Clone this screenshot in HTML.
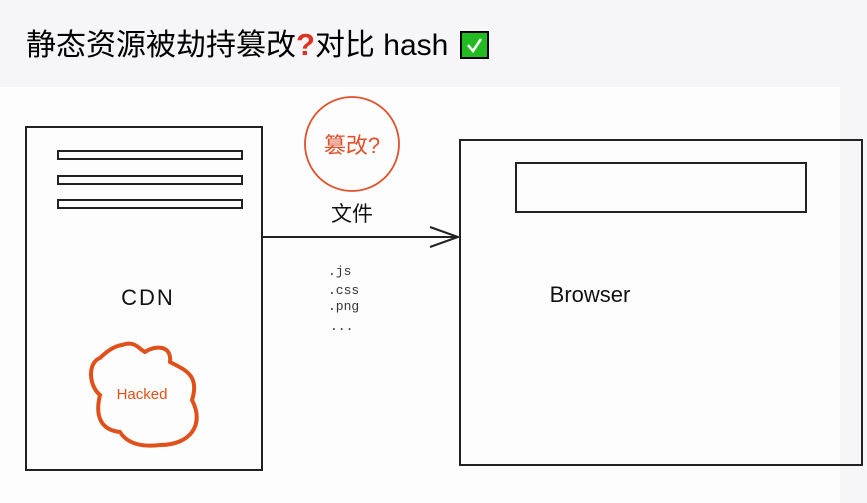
<!DOCTYPE html>
<html><head><meta charset="utf-8"><style>
body{margin:0;width:867px;height:503px;background:#f6f6f8;overflow:hidden;font-family:"Liberation Sans","Noto Sans CJK SC",sans-serif}
#t{position:absolute;left:26px;top:27px;font-size:30px;line-height:36px;white-space:nowrap;color:#000}
#t .q{color:#e03020;font-weight:bold;font-size:31px}
#t .c{display:inline-block;width:29px;height:28px;background:#22bb22;border:2px solid #000;vertical-align:-4px;margin-left:12px;position:relative;box-sizing:border-box}
svg{position:absolute;left:0;top:0}
</style></head><body>
<svg width="867" height="503" xmlns="http://www.w3.org/2000/svg">
<rect x="0" y="87" width="840" height="416" fill="#fdfdfd"/>
<g stroke="#222" stroke-width="2" fill="none">
<rect x="26" y="127" width="236" height="343"/>
<rect x="58" y="151" width="184" height="8"/>
<rect x="58" y="176" width="184" height="8"/>
<rect x="58" y="200" width="184" height="8"/>
<rect x="460" y="140" width="402" height="325"/>
<rect x="516" y="163" width="290" height="49"/>
<path d="M263 237 L458 237 M430 227 L458 237 L430 247"/>
</g>
<circle cx="352" cy="144" r="47" fill="none" stroke="#e0502a" stroke-width="1.8"/>
<text x="352" y="153" font-size="22" text-anchor="middle" fill="#e0502a" font-family="Liberation Sans,Noto Sans CJK SC,sans-serif">篡改?</text>
<text x="352" y="221" font-size="21" text-anchor="middle" fill="#111" font-family="Liberation Sans,Noto Sans CJK SC,sans-serif">文件</text>
<g font-size="13" fill="#333" font-family="Liberation Mono,monospace">
<text x="328" y="275">.js</text><text x="328" y="294">.css</text><text x="328" y="310">.png</text><text x="330" y="330">...</text>
</g>
<text x="148" y="305" font-size="22" text-anchor="middle" fill="#111" font-family="Liberation Sans,sans-serif" letter-spacing="2">CDN</text>
<text x="590" y="302" font-size="22" text-anchor="middle" fill="#111" font-family="Liberation Sans,sans-serif">Browser</text>
<path d="M122 345 C135 340 140 350 145 352 C155 345 172 345 170 362 C185 370 200 375 192 400 C205 425 190 445 160 445 C135 448 125 440 120 432 C100 430 95 415 100 395 C88 385 88 362 100 358 C108 350 115 346 122 345 Z" fill="none" stroke="#e0501a" stroke-width="4"/>
<text x="142" y="399" font-size="15" text-anchor="middle" fill="#e0501a" font-family="Liberation Sans,sans-serif">Hacked</text>
</svg>
<div id="t">静态资源被劫持篡改<span class="q">?</span>对比 hash<span class="c"><svg width="25" height="24" style="left:0;top:0"><path d="M6 12 l5 6 l8 -12" stroke="#fff" stroke-width="2.5" fill="none"/></svg></span></div>
</body></html>
